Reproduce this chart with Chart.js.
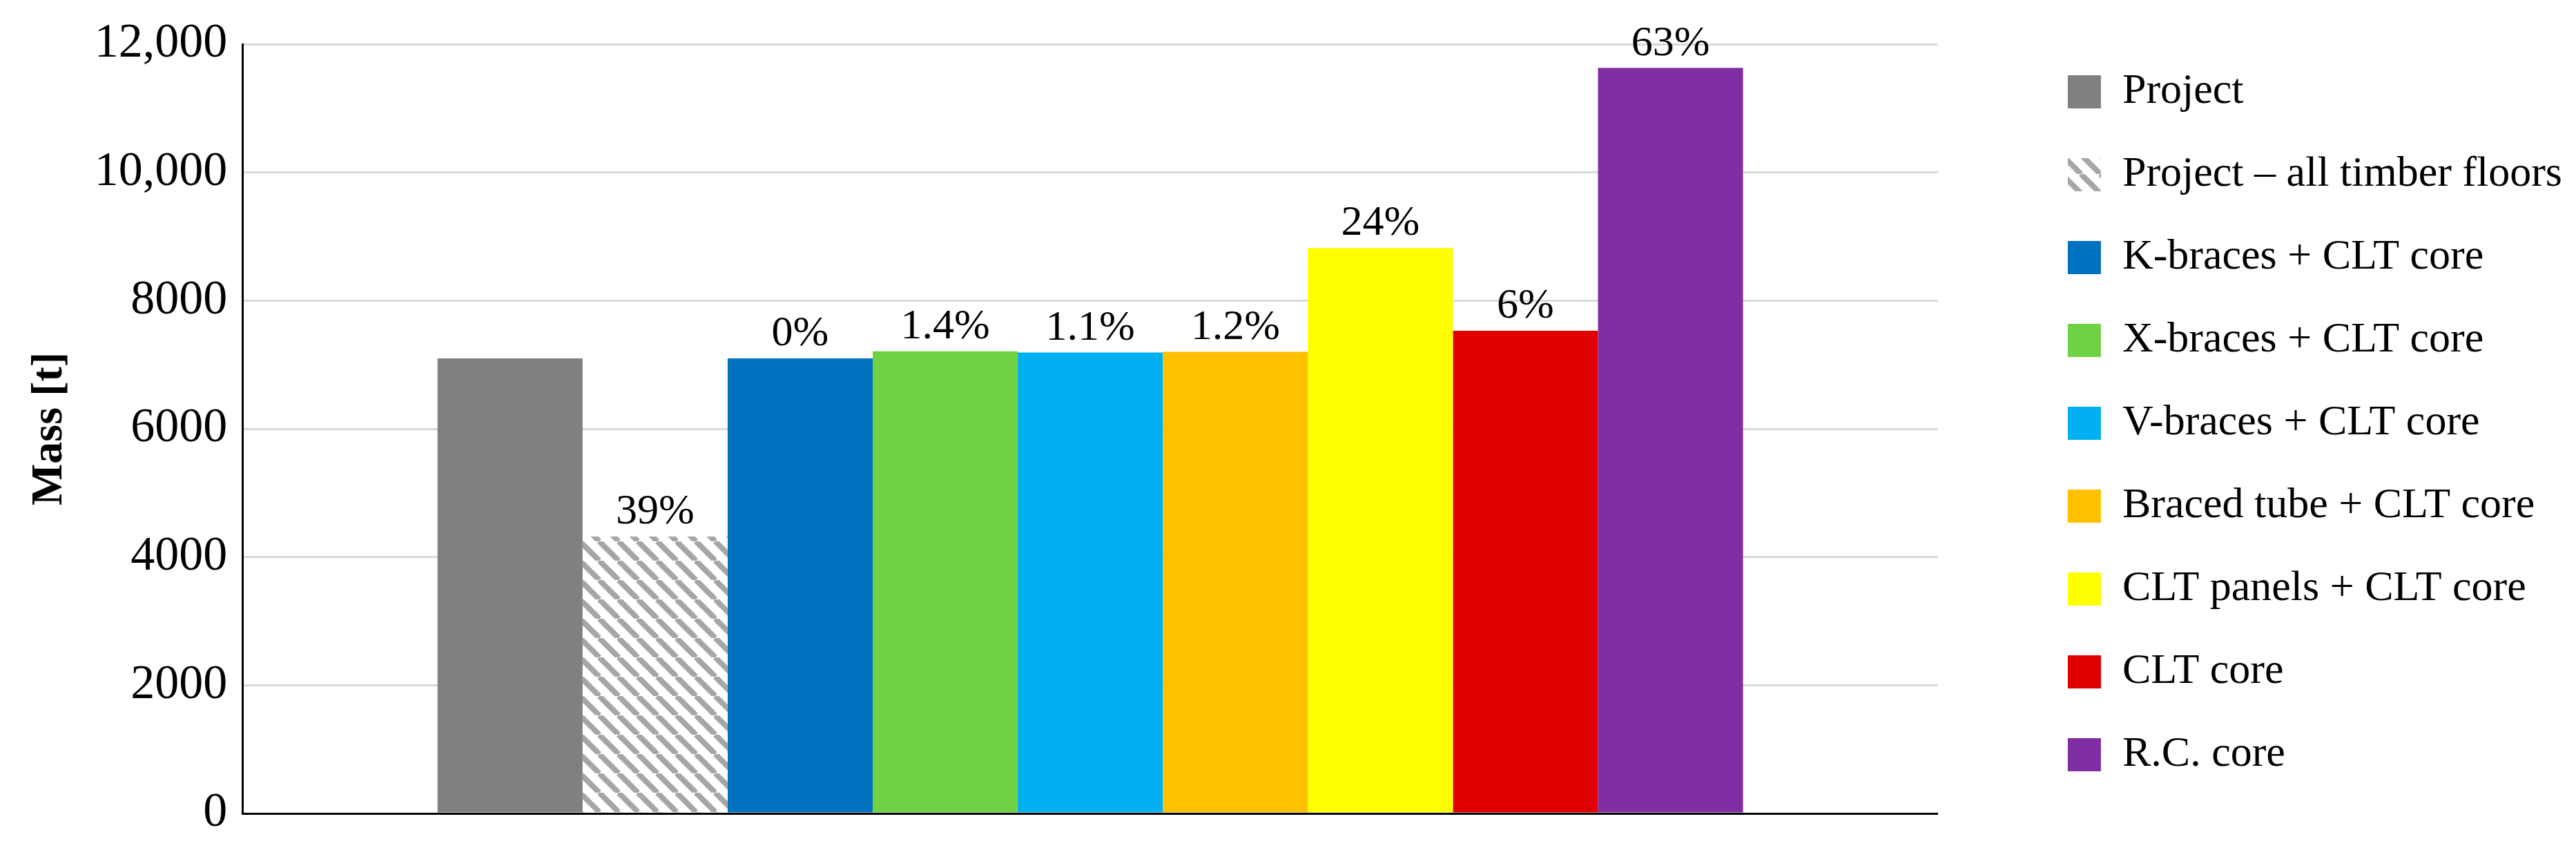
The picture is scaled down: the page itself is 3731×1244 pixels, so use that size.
<!DOCTYPE html>
<html>
<head>
<meta charset="utf-8">
<script src="https://cdn.jsdelivr.net/npm/chart.js@4/dist/chart.umd.min.js"></script>
<style>
  body { margin: 0; background: #fff; }
</style>
</head>
<body>
<canvas id="chart" width="3731" height="1244"></canvas>
<script>
const seriesNames = ["Project", "Project \u2013 all timber floors", "K-braces + CLT core", "X-braces + CLT core",
  "V-braces + CLT core", "Braced tube + CLT core", "CLT panels + CLT core", "CLT core", "R.C. core"];
const massValues = [7100, 4320, 7100, 7210, 7190, 7200, 8820, 7530, 11630];
const percentLabels = ["", "39%", "0%", "1.4%", "1.1%", "1.2%", "24%", "6%", "63%"];
const barColors = ["#808080", null, "#0070c0", "#6fd244", "#00b0f0", "#ffc000", "#ffff00", "#e00000", "#7f2ea3"];

// grey/white diagonal hatch for the timber floors bar
function makeHatch() {
  const c = document.createElement("canvas");
  c.width = 28; c.height = 28;
  const g = c.getContext("2d");
  g.fillStyle = "#fff";
  g.fillRect(0, 0, 28, 28);
  g.strokeStyle = "#a6a6a6";
  g.lineWidth = 8;
  for (let o = -28; o <= 28; o += 28) {
    g.beginPath();
    g.moveTo(o, 0);
    g.lineTo(o + 28, 28);
    g.stroke();
  }
  return g.createPattern(c, "repeat");
}
const hatch = makeHatch();

const labelPlugin = {
  id: "pctLabels",
  afterDatasetsDraw(chart) {
    const ctx = chart.ctx;
    ctx.save();
    ctx.font = "62px 'Liberation Serif'";
    ctx.fillStyle = "#000";
    ctx.textAlign = "center";
    ctx.textBaseline = "bottom";
    chart.data.datasets.forEach((ds, i) => {
      const bar = chart.getDatasetMeta(i).data[0];
      ctx.fillText(percentLabels[i], bar.x, bar.y - 4);
    });
    ctx.restore();
  }
};

// push the legend away from the plot area
const LEGEND_GAP = 130;
const legendGap = {
  id: "legendGap",
  afterInit(chart) {
    const lg = chart.legend;
    const fit = lg.fit;
    lg.fit = function () { fit.call(this); this.width += LEGEND_GAP; };
    const draw = lg.draw;
    lg.draw = function () {
      const ctx = this.ctx;
      ctx.save();
      ctx.translate(LEGEND_GAP, 0);
      draw.call(this);
      ctx.restore();
    };
  }
};

new Chart(document.getElementById("chart"), {
  type: "bar",
  data: {
    labels: [""],
    datasets: seriesNames.map((name, i) => ({
      label: name,
      data: [massValues[i]],
      backgroundColor: barColors[i] || hatch,
      borderWidth: 0
    }))
  },
  options: {
    responsive: false,
    devicePixelRatio: 1,
    animation: false,
    layout: { padding: { left: 30, top: 40, right: 10, bottom: 58 } },
    datasets: { bar: { categoryPercentage: 0.77, barPercentage: 1 } },
    scales: {
      x: {
        grid: { display: false },
        ticks: { display: false },
        border: { color: "#000", width: 3 }
      },
      y: {
        min: 0, max: 12000,
        ticks: {
          stepSize: 2000,
          padding: 22,
          color: "#000",
          font: { family: "Liberation Serif", size: 70 },
          callback: v => v >= 10000 ? v.toLocaleString("en-US") : String(v)
        },
        grid: { color: "#d9d9d9", lineWidth: 3, drawTicks: false },
        border: { color: "#000", width: 3 },
        title: {
          display: true, text: "Mass [t]", color: "#000",
          font: { family: "Liberation Serif", size: 64, weight: "bold" }
        }
      }
    },
    plugins: {
      legend: {
        position: "right",
        labels: {
          color: "#000",
          boxWidth: 48, boxHeight: 48,
          padding: 58,
          font: { family: "Liberation Serif", size: 62 }
        }
      },
      tooltip: { enabled: false }
    }
  },
  plugins: [labelPlugin, legendGap]
});
</script>
</body>
</html>
